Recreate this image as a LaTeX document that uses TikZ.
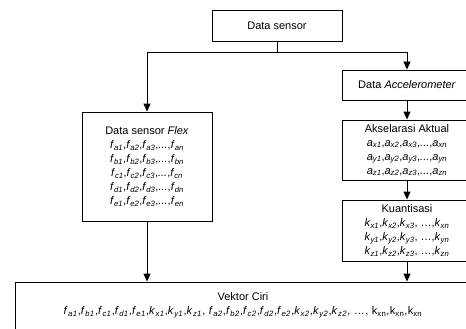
\documentclass[tikz,border=0pt]{standalone}
\usepackage{fontspec}
\setmainfont{Liberation Sans}
\usetikzlibrary{arrows.meta}

% italic symbol with italic subscript
\newcommand{\sym}[2]{\textit{#1}\textsubscript{\textit{#2}}}

\tikzset{
  blok/.style={draw, minimum width=130pt, align=center, inner sep=2pt,
    font=\fontsize{11}{14}\selectfont},
  panah/.style={-{Triangle[length=8pt,width=7pt]}},
}

\begin{document}
\begin{tikzpicture}[x=1pt,y=-1pt, line width=0.9pt]
  \clip (0,0) rectangle (466,329);

  \node[blok, minimum height=31pt] (sensor) at (277,25.5) {Data sensor};
  \node[blok, minimum height=30pt] (accel) at (407,85) {Data \textit{Accelerometer}};

  \node[blok, minimum height=109pt] (flex) at (147,166.5) {Data sensor \textit{Flex}\\
    \sym{f}{a1},\sym{f}{a2},\sym{f}{a3},\textit{...},\sym{f}{an}\\
    \sym{f}{b1},\sym{f}{b2},\sym{f}{b3},\textit{...},\sym{f}{bn}\\
    \sym{f}{c1},\sym{f}{c2},\sym{f}{c3},\textit{...},\sym{f}{cn}\\
    \sym{f}{d1},\sym{f}{d2},\sym{f}{d3},\textit{...},\sym{f}{dn}\\
    \sym{f}{e1},\sym{f}{e2},\sym{f}{e3},\textit{...},\sym{f}{en}};

  \node[blok, minimum height=60pt] (aktual) at (407,150) {Akselarasi Aktual\\
    \sym{a}{x1},\sym{a}{x2},\sym{a}{x3},\textit{...},\sym{a}{xn}\\
    \sym{a}{y1},\sym{a}{y2},\sym{a}{y3},\textit{...},\sym{a}{yn}\\
    \sym{a}{z1},\sym{a}{z2},\sym{a}{z3},\textit{...},\sym{a}{zn}};

  \node[blok, minimum height=61pt] (kuant) at (407,230.5) {Kuantisasi\\
    \sym{k}{x1},\sym{k}{x2},\sym{k}{x3}, \dots,\sym{k}{xn}\\
    \sym{k}{y1},\sym{k}{y2},\sym{k}{y3}, \dots,\sym{k}{yn}\\
    \sym{k}{z1},\sym{k}{z2},\sym{k}{z3}, \dots,\sym{k}{zn}};

  \node[blok, minimum width=456pt, minimum height=58pt] (vektor) at (243,311) {Vektor Ciri\\
    {\addfontfeature{LetterSpace=4}%
    \sym{f}{a1},\sym{f}{b1},\sym{f}{c1},\sym{f}{d1},\sym{f}{e1},\sym{k}{x1},\sym{k}{y1},\sym{k}{z1},
    \sym{f}{a2},\sym{f}{b2},\sym{f}{c2},\sym{f}{d2},\sym{f}{e2},\sym{k}{x2},\sym{k}{y2},\sym{k}{z2},
    \dots, k\textsubscript{xn},k\textsubscript{xn},k\textsubscript{xn}}\\ ~};

  % percabangan dari data sensor
  \coordinate (cabang) at ([yshift=-11pt]sensor.south);
  \draw (sensor.south) -- (cabang);
  \draw[panah] (cabang) -| (flex.north);
  \draw[panah] (cabang) -| (accel.north);

  \draw[panah] (accel) -- (aktual);
  \draw[panah] (aktual) -- (kuant);
  \draw[panah] (flex.south) -- (flex.south |- vektor.north);
  \draw[panah] (kuant.south) -- (kuant.south |- vektor.north);
\end{tikzpicture}
\end{document}
